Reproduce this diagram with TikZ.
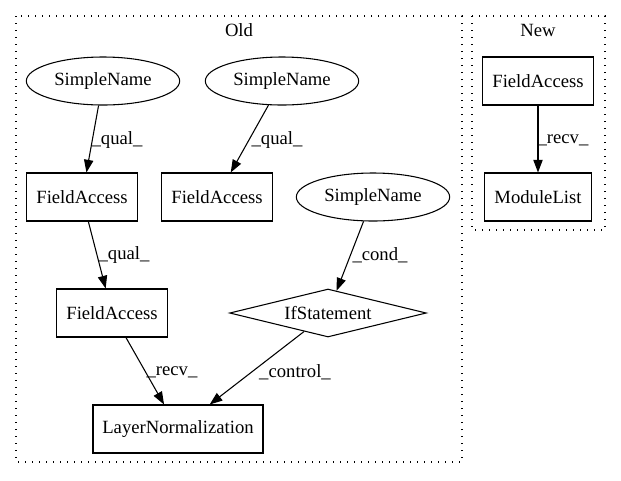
\documentclass[tikz,border=0pt]{standalone}
\usepackage{fontspec}
\setmainfont{Liberation Serif}
\usetikzlibrary{shapes.geometric,arrows.meta}
\begin{document}
\begin{tikzpicture}[x=0.75pt,y=-0.75pt,
  every node/.style={font=\fontsize{14}{16}\selectfont},
  box/.style={draw,line width=0.8pt,rectangle,inner sep=0pt,minimum height=36pt},
  oval/.style={draw,line width=0.8pt,ellipse,inner sep=0pt,minimum width=115pt,minimum height=36pt},
  dia/.style={draw,line width=0.8pt,diamond,aspect=4.1,inner sep=0pt,minimum width=147.5pt,minimum height=36pt},
  edge/.style={draw,line width=0.8pt,-{Triangle[length=9.5pt,width=7pt]}},
  lbl/.style={inner sep=0pt},
  cluster/.style={draw,line width=0.8pt,dash pattern=on 1pt off 4.25pt}]
\useasboundingbox (0,0) rectangle (621,480);
\path[cluster] (16,16) rectangle (462,462);
\path[cluster] (472,16) rectangle (605,230);
\node (old) at (239,30) {Old};
\node (new) at (538,30) {New};
% Old
\node[oval] (sn1) at (103,81) {SimpleName};
\node[oval] (sn2) at (282,81) {SimpleName};
\node[oval] (sn3) at (373,197) {SimpleName};
\node[box,minimum width=83pt] (fa1) at (82,197) {FieldAccess};
\node[box,minimum width=83pt] (fa2) at (217,197) {FieldAccess};
\node[box,minimum width=83pt] (fa3) at (112,313) {FieldAccess};
\node[dia] (if) at (328,313) {IfStatement};
\node[box,minimum width=127.5pt] (ln) at (178,429) {LayerNormalization};
% New
\node[box,minimum width=83pt] (nfa) at (538,81) {FieldAccess};
\node[box,minimum width=80pt] (ml) at (538,197) {ModuleList};
% edges
\path[edge] (sn1) -- (fa1);
\path[edge] (sn2) -- (fa2);
\path[edge] (fa1) -- (fa3);
\path[edge] (sn3) -- (if);
\path[edge] (fa3) -- (ln);
\path[edge] (if) -- (ln);
\path[edge] (nfa) -- (ml);
% labels
\node[lbl] (l1) at (117,140) {\_qual\_};
\node[lbl] (l2) at (277,140) {\_qual\_};
\node[lbl] (l3) at (124,255) {\_qual\_};
\node[lbl] (l4) at (380,255) {\_cond\_};
\node[lbl] (l5) at (172,372) {\_recv\_};
\node[lbl] (l6) at (295,372) {\_control\_};
\node[lbl] (l7) at (563,140) {\_recv\_};
\end{tikzpicture}
\end{document}
